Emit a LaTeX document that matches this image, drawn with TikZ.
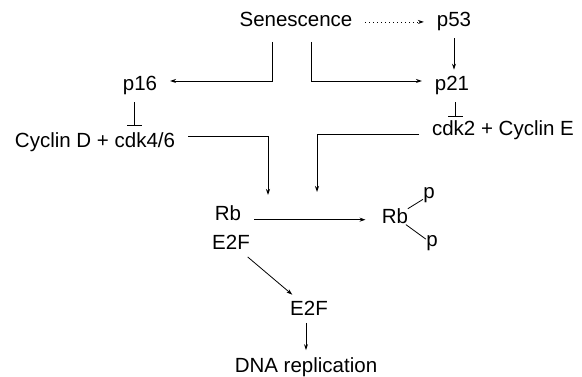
\documentclass[tikz,border=0pt]{standalone}
\usepackage{fontspec}
\setmainfont{Liberation Sans}
\usetikzlibrary{arrows.meta}
\tikzset{
  lbl/.style={font=\fontsize{20.5}{24}\selectfont, inner sep=0pt, anchor=base},
  gap/.style={outer xsep=13pt, outer ysep=7pt},
  arr/.style={-{Stealth[length=6pt,width=4pt]}},
  inh/.style={-{Bar[width=15pt]}},
}
\begin{document}
\begin{tikzpicture}[x=1pt,y=-1pt,line width=0.8pt]
\useasboundingbox (0,0) rectangle (582,377);
\node[lbl,gap] (sen) at (296,27) {Senescence};
\node[lbl,gap] (p53) at (454,27) {p53};
\node[lbl,gap] (p16) at (140,91) {p16};
\node[lbl,gap] (p21) at (452,91) {p21};
\node[lbl,gap] (cycD) at (95,148) {Cyclin D + cdk4/6};
\node[lbl,gap] (cdkE) at (503,136) {cdk2 + Cyclin E};
\node[lbl,gap] (rbL) at (228,221) {Rb};
\node[lbl,gap] (e2fL) at (231,250) {E2F};
\node[lbl] (rbR) at (395,224) {Rb};
\node[lbl] (pU) at (429,199) {p};
\node[lbl] (pL) at (432,247) {p};
\node[lbl,gap] (e2f) at (309,316) {E2F};
\node[lbl,gap] (dna) at (306,372) {DNA replication};
\coordinate (forkL) at (272,42);
\coordinate (forkR) at (311,42);
\coordinate (hitL) at (268,195);
\coordinate (hitR) at (317,192);
% senescence signals
\draw[arr, dash pattern=on 1pt off 3pt] ([yshift=-2pt]sen.east) -- ([yshift=-2pt]sen.east -| p53.west);
\draw[arr] (forkL) |- ([yshift=5pt]p16.east);
\draw[arr] (forkR) |- ([yshift=5pt]p21.west);
\draw[arr] (p53.south) -- (p53.south |- p21.north);
% inhibition
\draw[inh] ([xshift=-6pt]p16.south) -- ([xshift=-6pt]p16.south |- cycD.north);
\draw[inh] ([xshift=3pt]p21.south) -- ([xshift=3pt,yshift=-3pt]p21.south |- cdkE.north);
% kinases on Rb
\draw[arr] ([yshift=6pt]cycD.east) -| (hitL);
\draw[arr] ([yshift=-4pt]cdkE.west) -| (hitR);
\draw[arr, shorten >=16pt] ([yshift=-6pt]rbL.east) -- ([yshift=-6pt]rbL.east -| rbR.west);
\draw (rbR) -- (pU);
\draw (rbR) -- (pL);
% free E2F
\draw[arr] (e2fL) -- (e2f);
\draw[arr] (e2f.south -| dna.north) -- (dna.north);
\end{tikzpicture}
\end{document}
